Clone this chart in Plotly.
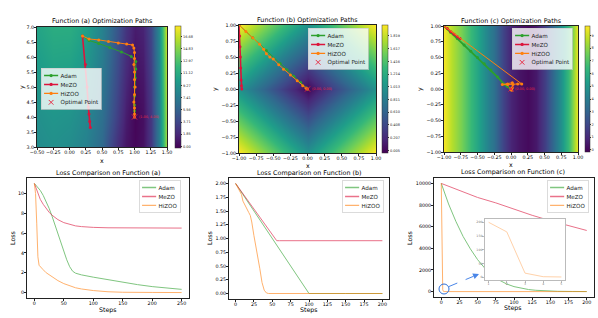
import plotly.graph_objects as go

W, H = 598, 318
FONT = "DejaVu Sans"

# ---------------- data ----------------
fa_x = [-0.5, -0.25, 0.0, 0.25, 0.5, 0.625, 0.75, 0.875, 1.0, 1.125, 1.25, 1.375, 1.5]
fa_y = [3.0, 4.0, 5.0, 6.0, 7.0]
fa_z = [
    [8.7, 9.0, 8.7, 7.9, 6.1, 4.0, 2.2, 0.8, 0.1, 0.6, 2.8, 7.6, 16.0],
    [9.0, 9.4, 9.2, 8.4, 6.6, 4.9, 3.1, 1.2, 0.0, 0.5, 2.8, 7.6, 16.2],
    [9.5, 10.0, 9.8, 9.0, 7.1, 5.4, 3.6, 1.7, 0.4, 0.8, 3.1, 7.9, 16.6],
    [10.0, 10.6, 10.5, 9.6, 7.6, 5.9, 4.1, 2.2, 0.8, 1.2, 3.5, 8.2, 17.0],
    [10.5, 11.2, 11.2, 10.2, 8.0, 6.3, 4.6, 2.6, 1.2, 1.6, 3.8, 8.5, 17.5],
]
fa_cbar_ticks = [0.00, 1.85, 3.71, 5.56, 7.41, 9.27, 11.12, 12.97, 14.83, 16.68]

# Function (b) surface
fb_x = [-1.0, -0.75, -0.5, -0.25, 0.0, 0.25, 0.5, 0.75, 1.0]
fb_y = [-1.0, -0.75, -0.5, -0.25, 0.0, 0.25, 0.5, 0.75, 1.0]
fb_z = [
    [2.0, 1.75, 1.5, 1.25, 1.0, 1.25, 1.5, 1.75, 2.0],
    [1.75, 1.5, 1.25, 1.0, 0.75, 1.0, 1.25, 1.5, 1.75],
    [1.5, 1.25, 1.0, 0.75, 0.5, 0.75, 1.0, 1.25, 1.5],
    [1.25, 1.0, 0.75, 0.5, 0.25, 0.5, 0.75, 1.0, 1.25],
    [1.0, 0.75, 0.5, 0.25, 0.0, 0.25, 0.5, 0.75, 1.0],
    [1.25, 1.0, 0.75, 0.5, 0.25, 0.5, 0.75, 1.0, 1.25],
    [1.5, 1.25, 1.0, 0.75, 0.5, 0.75, 1.0, 1.25, 1.5],
    [1.75, 1.5, 1.25, 1.0, 0.75, 1.0, 1.25, 1.5, 1.75],
    [2.0, 1.75, 1.5, 1.25, 1.0, 1.25, 1.5, 1.75, 2.0],
]
fb_cbar_ticks = [0.005, 0.207, 0.408, 0.610, 0.811, 1.013, 1.214, 1.416, 1.617, 1.819]

# Function (c) surface (varies along x only)
fc_x = [-1.0, -0.875, -0.75, -0.625, -0.5, -0.375, -0.25, -0.125, 0.0,
        0.125, 0.25, 0.375, 0.5, 0.625, 0.75, 0.875, 1.0]
fc_y = [-1.0, 1.0]
fc_row = [9.6, 8.6, 7.7, 6.7, 5.6, 4.5, 3.5, 1.9, 0.85, 0.4, 0.1, 0.5, 1.7, 3.2, 4.8, 6.9, 9.6]
fc_z = [fc_row, fc_row]
fc_cbar_ticks = [0, 1, 2, 3, 4, 5, 6, 7, 8, 9]

# Optimization paths
adam_a_x = [0.2, 0.3, 0.45, 0.62, 0.8, 0.95, 1.02, 1.02, 1.01, 1.0, 1.0, 1.0, 1.0, 1.0]
adam_a_y = [6.7, 6.55, 6.45, 6.32, 6.17, 6.02, 5.85, 5.6, 5.3, 5.0, 4.7, 4.4, 4.2, 4.0]
mezo_a_x = [0.2, 0.245, 0.27, 0.29, 0.3, 0.31, 0.32]
mezo_a_y = [6.7, 5.75, 5.0, 4.33, 4.1, 3.85, 3.65]
hizoo_a_x = [0.2, 0.3, 0.45, 0.6, 0.75, 0.88, 0.97, 0.99, 1.0, 1.0, 0.99, 1.0, 1.0, 1.01, 1.0, 0.99, 1.0, 1.0, 1.0]
hizoo_a_y = [6.7, 6.6, 6.57, 6.52, 6.47, 6.43, 6.4, 6.3, 6.15, 5.95, 5.75, 5.5, 5.25, 5.0, 4.75, 4.5, 4.3, 4.1, 4.0]
opt_a = [1.0, 4.0]

adam_b_x = [-1.0, -0.8, -0.6, -0.4, -0.3, -0.2, -0.1, -0.02, 0.0]
adam_b_y = [1.0, 0.8, 0.6, 0.4, 0.3, 0.2, 0.1, 0.02, 0.0]
mezo_b_x = [-1.0, -0.99, -0.985, -0.98, -0.975, -0.97, -0.965, -0.96]
mezo_b_y = [1.0, 0.83, 0.66, 0.5, 0.33, 0.14, 0.05, 0.0]
hizoo_b_x = [-1.0, -0.9, -0.8, -0.7, -0.64, -0.6, -0.55, -0.5, -0.42, -0.35, -0.25, -0.15, -0.07, -0.02, 0.0]
hizoo_b_y = [1.0, 0.9, 0.8, 0.7, 0.62, 0.55, 0.5, 0.47, 0.38, 0.31, 0.22, 0.13, 0.05, 0.01, 0.0]
opt_b = [0.0, 0.0]

adam_c_x = [-1.0, -0.9, -0.8, -0.7, -0.6, -0.5, -0.4, -0.3, -0.2, -0.11, -0.05, 0.0]
adam_c_y = [1.0, 0.9, 0.8, 0.7, 0.6, 0.5, 0.4, 0.3, 0.19, 0.08, 0.04, 0.0]
mezo_c_x = [-1.0, -0.95, -0.9, -0.85, -0.8, -0.76]
mezo_c_y = [1.0, 0.96, 0.91, 0.87, 0.83, 0.8]
hizoo_c_x = [-1.0, 0.16, 0.1, 0.03, -0.05, -0.13, -0.05, 0.02, 0.02, 0.01, 0.0]
hizoo_c_y = [1.0, 0.08, 0.08, 0.07, 0.07, 0.07, 0.08, 0.1, 0.02, -0.02, 0.0]
opt_c = [0.0, 0.0]

# Loss curves
adam_la_s = [0, 5, 10, 15, 20, 25, 30, 35, 40, 45, 50, 55, 60, 65, 70, 75, 80, 100, 125, 150, 175, 200, 225, 250]
adam_la_v = [11.0, 10.7, 10.3, 9.8, 9.2, 8.5, 7.7, 6.8, 5.9, 5.0, 4.1, 3.3, 2.6, 2.15, 1.95, 1.85, 1.78, 1.55,
             1.28, 1.02, 0.8, 0.6, 0.45, 0.32]
mezo_la_s = [0, 5, 10, 15, 20, 25, 30, 40, 50, 60, 70, 80, 90, 100, 125, 150, 200, 250]
mezo_la_v = [11.0, 10.1, 9.4, 8.9, 8.45, 8.1, 7.8, 7.35, 7.05, 6.85, 6.72, 6.65, 6.6, 6.57, 6.53, 6.51, 6.5, 6.5]
hizoo_la_s = [0, 2, 4, 6, 8, 10, 15, 20, 25, 30, 40, 50, 60, 70, 80, 90, 100, 125, 150, 200, 250]
hizoo_la_v = [11.0, 10.0, 7.0, 3.6, 2.75, 2.6, 2.3, 2.0, 1.8, 1.6, 1.2, 0.9, 0.65, 0.48, 0.36, 0.27, 0.2,
              0.08, 0.03, 0.01, 0.0]

adam_lb_s = [0, 25, 50, 75, 100, 150, 200]
adam_lb_v = [2.0, 1.5, 1.0, 0.5, 0.0, 0.0, 0.0]
mezo_lb_s = [0, 20, 40, 56, 60, 100, 150, 200]
mezo_lb_v = [2.0, 1.63, 1.26, 0.96, 0.96, 0.96, 0.96, 0.96]
hizoo_lb_s = [0, 3, 6, 8, 10, 12, 15, 18, 20, 22, 25, 28, 30, 33, 36, 39, 42, 45, 100, 200]
hizoo_lb_v = [2.0, 1.93, 1.86, 1.8, 1.68, 1.62, 1.56, 1.47, 1.42, 1.3, 1.05, 0.84, 0.72, 0.45, 0.2, 0.06,
              0.01, 0.0, 0.0, 0.0]

adam_lc_s = [0, 10, 20, 30, 40, 50, 60, 70, 80, 90, 100, 110, 120, 130, 140, 150, 160, 180, 200]
adam_lc_v = [10000, 8100, 6500, 5100, 3950, 2950, 2150, 1500, 1050, 700, 460, 300, 190, 120, 75, 45, 25, 10, 5]
mezo_lc_s = [0, 25, 50, 75, 100, 125, 150, 175, 200]
mezo_lc_v = [10000, 9350, 8700, 8200, 7600, 7050, 6550, 6100, 5650]
hizoo_lc_s = [0, 1, 2, 3, 4, 5, 10, 50, 100, 150, 200]
hizoo_lc_v = [10000, 200, 165, 15, 2, 1, 0, 0, 0, 0, 0]

method_names = ["Adam", "MeZO", "HiZOO"]

# ---------------- styling ----------------
C_ADAM = "#2ca02c"
C_MEZO = "#dc143c"
C_HIZOO = "#ff7f0e"
C_OPT = "#e8263f"
LEG_SCALE = 0.47


def X(p):
    return p / W


def Y(p):
    return 1 - p / H


def fmt(v, d):
    return f"{v:.{d}f}".replace("-", "\u2212")


def axis(x0, x1, rng, ticks, dec, anchor, is_y=False, size=4.8, color="#000", line="#222"):
    return dict(
        domain=[x0, x1], range=rng, anchor=anchor, showgrid=False, zeroline=False,
        showline=True, mirror=True, linecolor=line, linewidth=0.8,
        ticks="outside", ticklen=2, tickwidth=0.6, tickcolor=line,
        tickvals=ticks, ticktext=[fmt(t, dec) for t in ticks], tickangle=0,
        ticklabelstandoff=-1 if is_y else -2,
        tickfont=dict(size=size, family=FONT, color=color),
    )


def cbar(top, bottom, left, ticks, dec, thick=6, tl=1.5):
    return dict(
        x=X(left), xanchor="left", xpad=0, y=Y((top + bottom) / 2), yanchor="middle", ypad=0,
        len=(bottom - top) / H, lenmode="fraction", thickness=thick, thicknessmode="pixels",
        outlinewidth=0.5, outlinecolor="#333", tickvals=ticks, ticktext=[fmt(t, dec) for t in ticks],
        ticks="outside", ticklen=tl, tickwidth=0.5, tickcolor="#333",
        tickfont=dict(size=3.5, family=FONT, color="#222"),
    )


fig = go.Figure()

# heat maps
fig.add_trace(go.Heatmap(x=fa_x, y=fa_y, z=fa_z, zsmooth="best", colorscale="Viridis", zmin=-0.24, zmax=18.3,
                         colorbar=cbar(26, 148, 175, fa_cbar_ticks, 2), xaxis="x", yaxis="y", showlegend=False,
                         hoverinfo="skip"))
fig.add_trace(go.Heatmap(x=fb_x, y=fb_y, z=fb_z, zsmooth="best", colorscale="Viridis", zmin=-0.036, zmax=1.993,
                         colorbar=cbar(25, 153, 382, fb_cbar_ticks, 3), xaxis="x2", yaxis="y2", showlegend=False,
                         hoverinfo="skip"))
fig.add_trace(go.Heatmap(x=fc_x, y=fc_y, z=fc_z, zsmooth="best", colorscale="Viridis", zmin=-0.16, zmax=9.73,
                         colorbar=cbar(26, 152, 585, fc_cbar_ticks, 0, thick=5, tl=1), xaxis="x3", yaxis="y3",
                         showlegend=False, hoverinfo="skip"))

paths = [
    ("x", "y", "legend", (adam_a_x, adam_a_y), (mezo_a_x, mezo_a_y), (hizoo_a_x, hizoo_a_y), opt_a, 1.0),
    ("x2", "y2", "legend2", (adam_b_x, adam_b_y), (mezo_b_x, mezo_b_y), (hizoo_b_x, hizoo_b_y), opt_b, 1.0),
    ("x3", "y3", "legend3", (adam_c_x, adam_c_y), (mezo_c_x, mezo_c_y), (hizoo_c_x, hizoo_c_y), opt_c, 1.8),
]
for xa, ya, lg, ad, me, hz, opt, adw in paths:
    for (px, py), nm, col, lw in [(ad, "Adam", C_ADAM, adw), (me, "MeZO", C_MEZO, 1.6),
                                  (hz, "HiZOO", C_HIZOO, 1.0)]:
        fig.add_trace(go.Scatter(x=px, y=py, mode="lines+markers", name=nm, showlegend=False,
                                 line=dict(color=col, width=lw), marker=dict(size=3, color=col),
                                 xaxis=xa, yaxis=ya))
    fig.add_trace(go.Scatter(x=[opt[0]], y=[opt[1]], mode="markers", name="Optimal Point", showlegend=False,
                             marker=dict(symbol="x-thin", size=5, line=dict(width=1, color=C_OPT)),
                             xaxis=xa, yaxis=ya))
    # legend entries (legend is drawn at twice the size, then scaled down)
    for nm, col in zip(method_names, [C_ADAM, C_MEZO, C_HIZOO]):
        fig.add_trace(go.Scatter(x=[None], y=[None], mode="lines+markers", name=nm, legend=lg,
                                 line=dict(color=col, width=3), marker=dict(size=7, color=col),
                                 xaxis=xa, yaxis=ya))
    fig.add_trace(go.Scatter(x=[None], y=[None], mode="markers", name="Optimal Point", legend=lg,
                             marker=dict(symbol="x-thin", size=10, line=dict(width=2, color=C_OPT)),
                             xaxis=xa, yaxis=ya))
    fig.add_annotation(x=opt[0], y=opt[1], xref=xa, yref=ya, text=f"({opt[0]:.2f}, {opt[1]:.2f})",
                       showarrow=False, xanchor="left", xshift=2, font=dict(size=3.4, color=C_OPT, family=FONT))

losses = [
    ("x4", "y4", "legend4", (adam_la_s, adam_la_v), (mezo_la_s, mezo_la_v), (hizoo_la_s, hizoo_la_v)),
    ("x5", "y5", "legend5", (adam_lb_s, adam_lb_v), (mezo_lb_s, mezo_lb_v), (hizoo_lb_s, hizoo_lb_v)),
    ("x6", "y6", "legend6", (adam_lc_s, adam_lc_v), (mezo_lc_s, mezo_lc_v), (hizoo_lc_s, hizoo_lc_v)),
]
for xa, ya, lg, ad, me, hz in losses:
    for (s, v), nm, col in [(ad, "Adam", C_ADAM), (me, "MeZO", C_MEZO), (hz, "HiZOO", C_HIZOO)]:
        fig.add_trace(go.Scatter(x=s, y=v, mode="lines", name=nm, showlegend=False, opacity=0.6,
                                 line=dict(color=col, width=1), xaxis=xa, yaxis=ya))
    for nm, col in zip(method_names, [C_ADAM, C_MEZO, C_HIZOO]):
        fig.add_trace(go.Scatter(x=[None], y=[None], mode="lines", name=nm, legend=lg, opacity=0.6,
                                 line=dict(color=col, width=3), xaxis=xa, yaxis=ya))

# inset: HiZOO on Function (c), steps 1-5
fig.add_trace(go.Scatter(x=hizoo_lc_s[1:6], y=hizoo_lc_v[1:6], mode="lines", showlegend=False, opacity=0.35,
                         line=dict(color=C_HIZOO, width=1), xaxis="x7", yaxis="y7"))

lay = dict(
    width=W, height=H, autosize=False, margin=dict(l=0, r=0, t=0, b=0, autoexpand=False),
    paper_bgcolor="white", plot_bgcolor="white", font=dict(family=FONT, size=6, color="#000"),
    hovermode=False,
)

steps_a = [0, 50, 100, 150, 200, 250]
steps_b = [0, 25, 50, 75, 100, 125, 150, 175, 200]
q = [-1.0, -0.75, -0.5, -0.25, 0.0, 0.25, 0.5, 0.75, 1.0]
lay["xaxis"] = axis(X(37), X(167), [-0.5, 1.5], [-0.5, -0.25, 0, 0.25, 0.5, 0.75, 1.0, 1.25, 1.5], 2, "y")
lay["yaxis"] = axis(Y(147), Y(27), [3, 7], [3.0, 3.5, 4.0, 4.5, 5.0, 5.5, 6.0, 6.5, 7.0], 1, "x", True)
lay["xaxis2"] = axis(X(239), X(376), [-1, 1], q, 2, "y2")
lay["yaxis2"] = axis(Y(153), Y(25), [-1, 1], q, 2, "x2", True)
lay["xaxis3"] = axis(X(444), X(578), [-1, 1], q, 2, "y3")
lay["yaxis3"] = axis(Y(152), Y(26), [-1, 1], q, 2, "x3", True)
lay["xaxis4"] = axis(X(27), X(189), [-12.5, 262.5], steps_a, 0, "y4")
lay["yaxis4"] = axis(Y(298), Y(178), [-0.55, 11.55], [0, 2, 4, 6, 8, 10], 0, "x4", True)
lay["xaxis5"] = axis(X(229), X(389), [-9, 209], steps_b, 0, "y5")
lay["yaxis5"] = axis(Y(299), Y(178), [-0.1, 2.1], [0, 0.25, 0.5, 0.75, 1.0, 1.25, 1.5, 1.75, 2.0], 2, "x5", True)
lay["xaxis6"] = axis(X(434), X(594), [-10, 210], steps_b, 0, "y6")
lay["yaxis6"] = axis(Y(297), Y(178), [-500, 10500], [0, 2000, 4000, 6000, 8000, 10000], 0, "x6", True)
lay["xaxis7"] = axis(X(485), X(565), [0.8, 5.2], [1, 2, 3, 4, 5], 0, "y7", size=3.2, color="#777", line="#bbb")
lay["yaxis7"] = axis(Y(280), Y(219), [-10, 212], [0, 50, 100, 150, 200], 0, "x7", True, size=3.2, color="#777",
                     line="#bbb")


def leg(left, top):
    return dict(x=X(left), y=Y(top), xanchor="left", yanchor="top", bgcolor="rgba(255,255,255,0.8)",
                bordercolor="#cccccc", borderwidth=1.5,
                font=dict(size=5.6 / LEG_SCALE, family=FONT, color="#222"),
                itemwidth=30, tracegroupgap=0)


lay["legend"] = leg(41, 68)
lay["legend2"] = leg(308, 28)
lay["legend3"] = leg(512, 28)
lay["legend4"] = leg(139, 180)
lay["legend5"] = leg(342, 180)
lay["legend6"] = leg(547, 180)

fig.update_layout(**lay)

# titles
titles = [
    ("Function (a) Optimization Paths", 102, 21), ("Function (b) Optimization Paths", 307.5, 20),
    ("Function (c) Optimization Paths", 511, 21), ("Loss Comparison on Function (a)", 108, 173),
    ("Loss Comparison on Function (b)", 309, 173), ("Loss Comparison on Function (c)", 513, 172),
]
for t, cx, cy in titles:
    fig.add_annotation(x=X(cx), y=Y(cy), xref="paper", yref="paper", text=t, showarrow=False,
                       xanchor="center", yanchor="middle", font=dict(size=6.4, family=FONT, color="#000"))

# axis labels
axis_labels = [
    ("x", 102, 160, 0), ("y", 22, 87, -90), ("x", 307.5, 165, 0), ("y", 215, 89, -90),
    ("x", 511, 164, 0), ("y", 420, 89, -90),
    ("Steps", 108, 310, 0), ("Loss", 13, 238, -90), ("Steps", 309, 310, 0), ("Loss", 210, 238, -90),
    ("Steps", 513, 308, 0), ("Loss", 410, 238, -90),
]
for t, cx, cy, ang in axis_labels:
    fig.add_annotation(x=X(cx), y=Y(cy), xref="paper", yref="paper", text=t, showarrow=False, textangle=ang,
                       xanchor="center", yanchor="middle", font=dict(size=6.3, family=FONT, color="#000"))

# zoom marker: circle + dashed arrow to inset
fig.add_shape(type="circle", xref="paper", yref="paper", x0=X(439), x1=X(449), y0=Y(294), y1=Y(284),
              line=dict(color="#2f6fd6", width=1))
fig.add_shape(type="line", xref="paper", yref="paper", x0=X(449), y0=Y(286.5), x1=X(473), y1=Y(276.5),
              line=dict(color="#4a86e8", width=1, dash="dash"))
fig.add_annotation(x=X(479), y=Y(274), xref="paper", yref="paper", ax=-7, ay=3, text="", showarrow=True,
                   arrowhead=2, arrowsize=1, arrowwidth=1.2, arrowcolor="#4a86e8")

# The page body gets no margin so the 598x318 figure fills the window exactly.
# Plotly gives every legend row at least 19 px; legends are drawn at about twice the size
# and scaled down to the compact matplotlib-like size, keeping their top-left corners.
post = """
document.body.style.margin = '0';
document.body.style.padding = '0';
var gd = document.getElementById('{plot_id}');
var S = %f;
var fl = gd._fullLayout;
var gs = gd.querySelectorAll('g');
for (var i = 0; i < gs.length; i++) {
  var c = gs[i].getAttribute('class') || '';
  if (/^legend\\d*$/.test(c) && fl[c]) {
    var lx = fl[c].x * fl.width, ly = (1 - fl[c].y) * fl.height;
    gs[i].setAttribute('transform', 'translate(' + lx + ',' + ly + ') scale(' + S + ')');
  }
}
""" % LEG_SCALE

fig.write_html("out.html", post_script=post, config={"displayModeBar": False})
